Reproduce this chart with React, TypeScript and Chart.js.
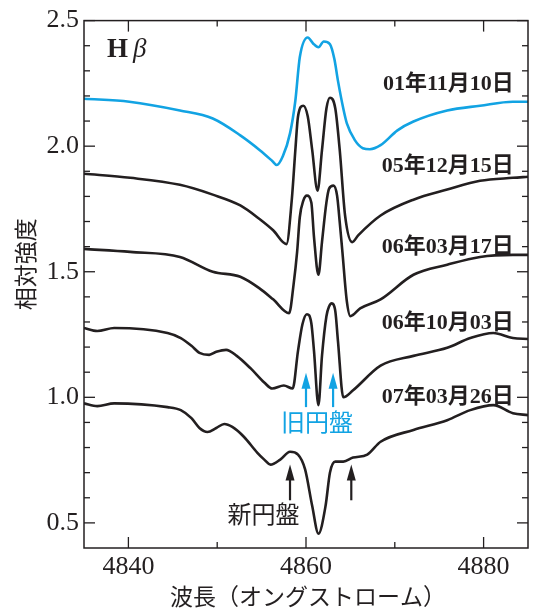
import React, { useEffect, useRef } from "react";
import { Chart, registerables } from "chart.js";

Chart.register(...registerables);

// ---- data (wavelength in Å, relative intensity) ----
const d011110X = [4835.0, 4840.1, 4845.8, 4849.5, 4852.6, 4854.8, 4856.2, 4856.7, 4857.4, 4858.2, 4858.8, 4859.3, 4860.2, 4860.8, 4861.4, 4862.0, 4862.7, 4863.2, 4863.6, 4864.2, 4864.6, 4865.5, 4866.4, 4867.2, 4868.4, 4870.3, 4872.1, 4875.9, 4879.6, 4883.3, 4885.0];
const d011110Y = [2.189, 2.177, 2.142, 2.110, 2.043, 1.984, 1.941, 1.925, 1.961, 2.051, 2.181, 2.354, 2.433, 2.409, 2.394, 2.417, 2.406, 2.346, 2.260, 2.150, 2.091, 2.024, 1.992, 1.988, 2.004, 2.063, 2.098, 2.142, 2.161, 2.177, 2.177];

const d051215X = [4835.0, 4840.2, 4845.8, 4849.5, 4852.6, 4854.8, 4856.3, 4857.8, 4858.4, 4858.8, 4859.1, 4859.7, 4860.2, 4860.7, 4861.3, 4861.8, 4862.3, 4862.7, 4863.3, 4863.8, 4864.4, 4865.2, 4865.9, 4868.4, 4872.1, 4875.9, 4879.6, 4883.3, 4885.0];
const d051215Y = [1.890, 1.874, 1.846, 1.807, 1.764, 1.709, 1.665, 1.610, 1.787, 1.984, 2.118, 2.161, 2.118, 1.984, 1.823, 1.984, 2.150, 2.193, 2.150, 1.984, 1.724, 1.618, 1.646, 1.724, 1.787, 1.827, 1.862, 1.874, 1.878];

const d060317X = [4835.0, 4840.2, 4845.8, 4849.5, 4852.6, 4854.8, 4856.3, 4858.1, 4858.6, 4859.0, 4859.3, 4859.7, 4860.1, 4860.6, 4860.9, 4861.4, 4861.8, 4862.3, 4862.6, 4863.1, 4863.5, 4863.8, 4864.1, 4864.6, 4865.0, 4866.1, 4868.4, 4872.1, 4875.9, 4879.6, 4883.3, 4885.0];
const d060317Y = [1.591, 1.579, 1.559, 1.500, 1.480, 1.433, 1.390, 1.335, 1.449, 1.579, 1.717, 1.783, 1.803, 1.776, 1.638, 1.488, 1.618, 1.776, 1.831, 1.843, 1.803, 1.697, 1.579, 1.382, 1.323, 1.354, 1.390, 1.488, 1.528, 1.559, 1.567, 1.567];

const d061003X = [4835.0, 4836.5, 4838.4, 4844.4, 4845.9, 4847.1, 4848.0, 4849.1, 4849.9, 4851.0, 4852.2, 4853.8, 4855.3, 4856.2, 4857.5, 4858.5, 4859.1, 4859.6, 4860.1, 4860.6, 4860.9, 4861.4, 4861.8, 4862.3, 4862.6, 4862.9, 4863.3, 4863.6, 4864.2, 4865.3, 4868.4, 4872.1, 4875.9, 4878.5, 4881.1, 4883.3, 4885.0];
const d061003Y = [1.276, 1.264, 1.276, 1.256, 1.236, 1.205, 1.177, 1.169, 1.181, 1.189, 1.165, 1.114, 1.059, 1.035, 1.047, 1.035, 1.185, 1.291, 1.331, 1.295, 1.185, 0.969, 1.165, 1.323, 1.362, 1.374, 1.343, 1.224, 1.000, 1.028, 1.126, 1.165, 1.197, 1.236, 1.256, 1.236, 1.232];

const d070326X = [4835.0, 4836.5, 4838.4, 4844.4, 4845.9, 4847.1, 4848.0, 4848.9, 4849.9, 4850.8, 4851.7, 4853.0, 4854.5, 4855.3, 4856.0, 4857.1, 4858.2, 4859.1, 4859.9, 4860.7, 4861.4, 4862.2, 4862.7, 4863.3, 4864.2, 4865.3, 4866.9, 4868.4, 4872.1, 4875.9, 4878.5, 4881.1, 4883.3, 4885.0];
const d070326Y = [0.976, 0.965, 0.976, 0.961, 0.949, 0.917, 0.878, 0.862, 0.878, 0.894, 0.882, 0.843, 0.780, 0.752, 0.732, 0.752, 0.783, 0.772, 0.713, 0.567, 0.457, 0.567, 0.701, 0.744, 0.744, 0.760, 0.772, 0.823, 0.870, 0.909, 0.949, 0.969, 0.937, 0.929];

const dateLabels = ["01年11月10日", "05年12月15日", "06年03月17日", "06年10月03日", "07年03月26日"];
const dateLabelY = [2.248, 1.921, 1.598, 1.295, 1.0];
const dateLabelX = 4883.4;

const xTickLabels = [4840, 4860, 4880];
const xMinorTicks = [4840, 4850, 4860, 4870, 4880];
const yTickLabels = [0.5, 1.0, 1.5, 2.0, 2.5];
const yMinorTicks = [0.5, 0.6, 0.7, 0.8, 0.9, 1.0, 1.1, 1.2, 1.3, 1.4, 1.5, 1.6, 1.7, 1.8, 1.9, 2.0, 2.1, 2.2, 2.3, 2.4, 2.5];

const oldDiskArrowsX = [4860.0, 4863.05];
const oldDiskArrowY = [0.961, 1.098];
const newDiskArrowsX = [4858.2, 4865.1];
const newDiskArrowY = [0.59, 0.732];

const BLUE = "#12a3e3";
const INK = "#231f20";

function pts(xs: number[], ys: number[]) {
  return xs.map((x, i) => ({ x, y: ys[i] }));
}

const decor = {
  id: "decor",
  afterDraw(chart: any) {
    const { ctx, chartArea: a, scales } = chart;
    const x = scales.x;
    const y = scales.y;
    ctx.save();
    ctx.strokeStyle = INK;
    ctx.lineWidth = 1.5;
    ctx.strokeRect(a.left, a.top, a.right - a.left, a.bottom - a.top);
    const line = (x1: number, y1: number, x2: number, y2: number) => {
      ctx.beginPath();
      ctx.moveTo(x1, y1);
      ctx.lineTo(x2, y2);
      ctx.stroke();
    };
    ctx.lineWidth = 1.3;
    for (const v of xMinorTicks) {
      const px = x.getPixelForValue(v);
      const len = xTickLabels.includes(v) ? 11 : 6;
      line(px, a.bottom, px, a.bottom - len);
      line(px, a.top, px, a.top + len);
    }
    for (const v of yMinorTicks) {
      const py = y.getPixelForValue(v);
      const major = yTickLabels.some((t) => Math.abs(t - v) < 1e-6);
      const len = major ? 11 : 6;
      line(a.left, py, a.left + len, py);
      line(a.right, py, a.right - len, py);
    }

    // date labels
    ctx.fillStyle = INK;
    ctx.textAlign = "right";
    ctx.textBaseline = "middle";
    ctx.font = "bold 22px 'Liberation Serif', 'Noto Sans CJK JP'";
    dateLabels.forEach((t, i) => {
      ctx.fillText(t, x.getPixelForValue(dateLabelX), y.getPixelForValue(dateLabelY[i]));
    });

    // H beta
    ctx.textAlign = "left";
    ctx.font = "bold 27px 'Liberation Serif'";
    const hx = x.getPixelForValue(4837.6);
    const hy = y.getPixelForValue(2.382);
    ctx.fillText("H", hx, hy);
    const hw = ctx.measureText("H").width;
    ctx.font = "italic 27px 'Liberation Serif'";
    ctx.fillText("β", hx + hw + 5, hy);

    // arrows
    const arrow = (px: number, y0: number, y1: number, color: string) => {
      ctx.strokeStyle = color;
      ctx.fillStyle = color;
      ctx.lineWidth = 2.2;
      line(px, y0, px, y1 + 12);
      ctx.beginPath();
      ctx.moveTo(px, y1);
      ctx.lineTo(px - 4.5, y1 + 16);
      ctx.lineTo(px + 4.5, y1 + 16);
      ctx.closePath();
      ctx.fill();
    };
    oldDiskArrowsX.forEach((v) =>
      arrow(x.getPixelForValue(v), y.getPixelForValue(oldDiskArrowY[0]), y.getPixelForValue(oldDiskArrowY[1]), BLUE)
    );
    newDiskArrowsX.forEach((v) =>
      arrow(x.getPixelForValue(v), y.getPixelForValue(newDiskArrowY[0]), y.getPixelForValue(newDiskArrowY[1]), INK)
    );

    ctx.textAlign = "center";
    ctx.textBaseline = "middle";
    ctx.font = "24px 'Noto Sans CJK JP'";
    ctx.fillStyle = BLUE;
    ctx.fillText("旧円盤", x.getPixelForValue(4861.25), y.getPixelForValue(0.902));
    ctx.fillStyle = INK;
    ctx.fillText("新円盤", x.getPixelForValue(4855.2), y.getPixelForValue(0.535));

    // axis titles
    ctx.font = "23px 'Noto Sans CJK JP'";
    ctx.fillText("波長（オングストローム）", (a.left + a.right) / 2 + 2, 596);
    ctx.save();
    ctx.translate(25, (a.top + a.bottom) / 2 - 20);
    ctx.rotate(-Math.PI / 2);
    ctx.fillText("相対強度", 0, 0);
    ctx.restore();

    ctx.restore();
  },
};

export default function App() {
  const ref = useRef<HTMLCanvasElement | null>(null);
  useEffect(() => {
    if (!ref.current) return;
    const mk = (label: string, xs: number[], ys: number[], color: string) => ({
      label,
      data: pts(xs, ys),
      borderColor: color,
      borderWidth: 2.6,
      pointRadius: 0,
      fill: false,
      cubicInterpolationMode: "monotone" as const,
    });
    const chart = new Chart(ref.current, {
      type: "line",
      data: {
        datasets: [
          mk(dateLabels[0], d011110X, d011110Y, BLUE),
          mk(dateLabels[1], d051215X, d051215Y, INK),
          mk(dateLabels[2], d060317X, d060317Y, INK),
          mk(dateLabels[3], d061003X, d061003Y, INK),
          mk(dateLabels[4], d070326X, d070326Y, INK),
        ],
      },
      options: {
        responsive: false,
        animation: false,
        layout: { padding: { top: 16, right: 7, left: 0, bottom: 0 } },
        plugins: { legend: { display: false }, tooltip: { enabled: false } },
        scales: {
          x: {
            type: "linear",
            min: 4835,
            max: 4885,
            grid: { display: false, drawTicks: false },
            border: { display: false },
            afterBuildTicks: (s: any) => {
              s.ticks = xTickLabels.map((v) => ({ value: v }));
            },
            afterFit: (s: any) => {
              s.height = 66;
            },
            ticks: {
              padding: 4,
              color: INK,
              font: { family: "'Liberation Serif'", size: 26 },
              maxRotation: 0,
              callback: (v: any) => String(v),
            },
          },
          y: {
            type: "linear",
            min: 0.4,
            max: 2.5,
            grid: { display: false, drawTicks: false },
            border: { display: false },
            afterBuildTicks: (s: any) => {
              s.ticks = yTickLabels.map((v) => ({ value: v }));
            },
            afterFit: (s: any) => {
              s.width = 84;
            },
            ticks: {
              padding: 5,
              color: INK,
              font: { family: "'Liberation Serif'", size: 26 },
              callback: (v: any) => Number(v).toFixed(1),
            },
          },
        },
      },
      plugins: [decor],
    });
    return () => chart.destroy();
  }, []);
  return (
    <div style={{ position: "fixed", left: 0, top: 0, width: 535, height: 614, background: "#fff" }}>
      <canvas ref={ref} width={535} height={614} style={{ display: "block" }} />
    </div>
  );
}
